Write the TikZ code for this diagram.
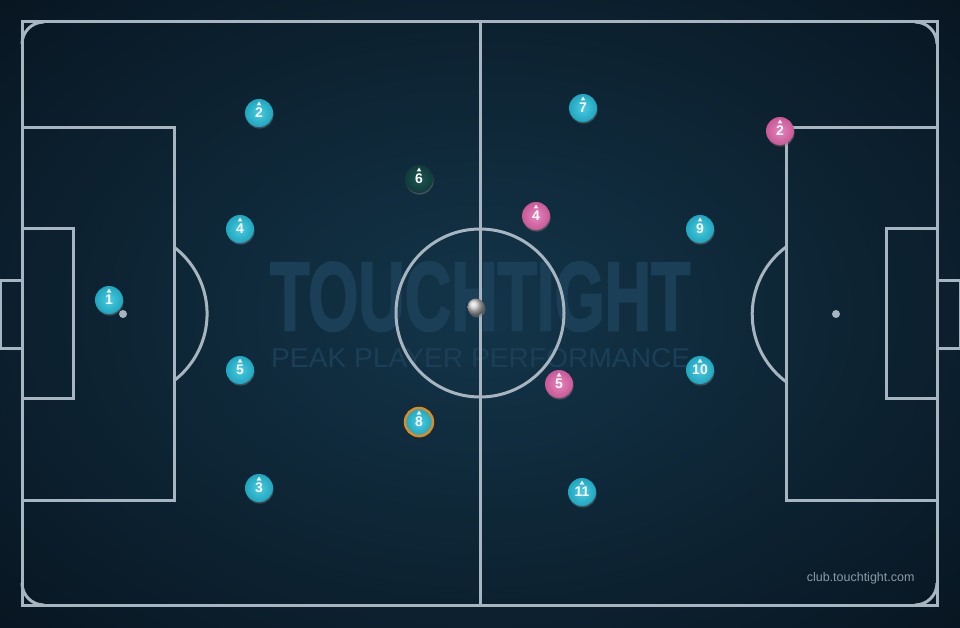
\documentclass[tikz,border=0pt]{standalone}
\usepackage{fontspec}
\setmainfont{Liberation Sans}
\usetikzlibrary{shadows}
\definecolor{bgin}{HTML}{133549}
\definecolor{bgout}{HTML}{081521}
\definecolor{pline}{HTML}{A6B5C0}
\definecolor{tealp}{HTML}{1FA6BF}
\definecolor{teallt}{HTML}{4CCBE0}
\definecolor{pinkp}{HTML}{C95896}
\definecolor{pinklt}{HTML}{E486BE}
\definecolor{darkp}{HTML}{103B3A}
\definecolor{darklt}{HTML}{1D5654}
\definecolor{ringor}{HTML}{E48A1C}
\definecolor{wm}{HTML}{1A3F56}
\definecolor{urlc}{HTML}{8A9AA6}
\tikzset{
  pl/.style={draw=pline, line width=3pt},
  player/.style={circle, minimum size=28pt, inner sep=0pt, text=white,
    font=\bfseries\fontsize{14}{14}\selectfont,
    drop shadow={opacity=0.45, shadow xshift=0.6pt, shadow yshift=-1.6pt}},
  tealpl/.style={player, inner color=teallt, outer color=tealp},
  pinkpl/.style={player, inner color=pinklt, outer color=pinkp},
  darkpl/.style={player, inner color=darklt, outer color=darkp},
}
\newcommand{\tri}[1]{\fill[white!85!gray] ([yshift=11.5pt]#1.center) -- ++(-2.4pt,-4pt) -- ++(4.8pt,0) -- cycle;}
\begin{document}
\begin{tikzpicture}[x=1pt,y=-1pt]
\useasboundingbox (0,0) rectangle (960,628);
\shade[inner color=bgin, outer color=bgout] (-200,-150) rectangle (1160,778);
% watermark
\node[text=wm, inner sep=0pt, anchor=north west] (wm1) at (270,262) {\resizebox{420pt}{68pt}{\addfontfeature{FakeBold=2.5}\bfseries TOUCHTIGHT}};
\node[text=wm, inner sep=0pt, anchor=north west] (wm2) at (271,348) {\resizebox{419pt}{19pt}{PEAK PLAYER PERFORMANCE}};
% pitch
\draw[pl] (22,22) rectangle (937,605);
\draw[pl] (480,22) -- (480,605);
\draw[pl] (480,313) circle[radius=84];
% corner arcs
\draw[pl] (22,44) arc[start angle=180, end angle=270, radius=22];
\draw[pl] (915,22) arc[start angle=270, end angle=360, radius=22];
\draw[pl] (937,583) arc[start angle=0, end angle=90, radius=22];
\draw[pl] (44,605) arc[start angle=90, end angle=180, radius=22];
% left
\draw[pl] (22,128) rectangle (174,500);
\draw[pl] (22,229) rectangle (73,398);
\draw[pl] (0,280) rectangle (22,348);
\fill[pline] (123,314) circle[radius=4];
\draw[pl] (174,247) arc[start angle=-52.7, end angle=52.7, radius=84];
% right
\draw[pl] (786,128) rectangle (937,500);
\draw[pl] (886,229) rectangle (937,398);
\draw[pl] (937,280) rectangle (960,348);
\fill[pline] (836,314) circle[radius=4];
\draw[pl] (786,247) arc[start angle=233.3, end angle=126.7, radius=84];
% url
\node[text=urlc, font=\fontsize{12.5}{13}\selectfont, anchor=east] (url) at (918,578) {club.touchtight.com};
% ball
\shade[ball color=gray!40!white, drop shadow={opacity=0.5, shadow xshift=1pt, shadow yshift=-2pt}] (476,307) circle[radius=8.5];
% players
\node[tealpl] (t1) at (109,300) {\raisebox{-2pt}{1}};
\node[tealpl] (t2) at (259,113) {\raisebox{-2pt}{2}};
\node[tealpl] (t4) at (240,229) {\raisebox{-2pt}{4}};
\node[tealpl] (t5) at (240,370) {\raisebox{-2pt}{5}};
\node[tealpl] (t3) at (259,488) {\raisebox{-2pt}{3}};
\node[tealpl] (t7) at (583,108) {\raisebox{-2pt}{7}};
\node[tealpl] (t9) at (700,229) {\raisebox{-2pt}{9}};
\node[tealpl] (t10) at (700,370) {\raisebox{-2pt}{10}};
\node[tealpl] (t11) at (582,492) {\raisebox{-2pt}{11}};
\node[tealpl, draw=ringor, line width=2.4pt] (t8) at (419,422) {\raisebox{-2pt}{8}};
\node[darkpl] (d6) at (419,179) {\raisebox{-2pt}{6}};
\node[pinkpl] (o2) at (780,131) {\raisebox{-2pt}{2}};
\node[pinkpl] (o4) at (536,216) {\raisebox{-2pt}{4}};
\node[pinkpl] (o5) at (559,384) {\raisebox{-2pt}{5}};
\foreach \n in {t1,t2,t4,t5,t3,t7,t9,t10,t11,t8,d6,o2,o4,o5}{\tri{\n}}
\end{tikzpicture}
\end{document}
